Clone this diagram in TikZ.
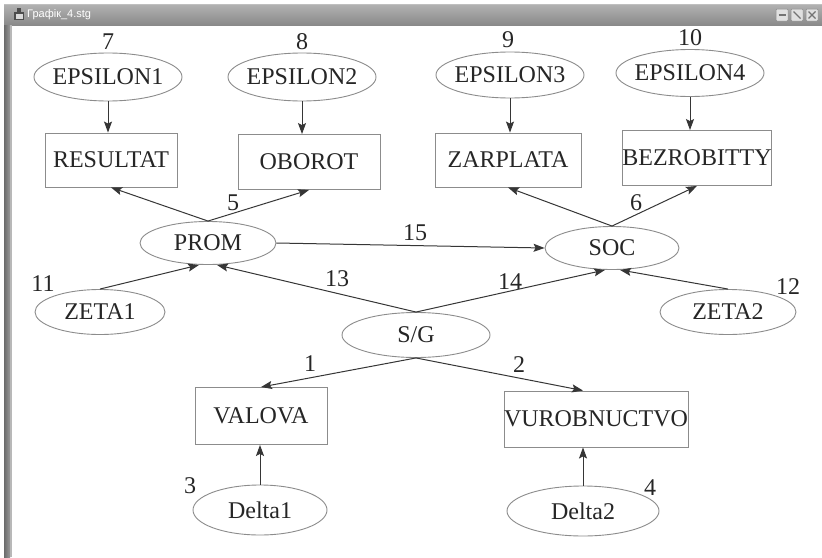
\documentclass[tikz,border=0pt]{standalone}
\usepackage{fontspec}
\setmainfont{Liberation Serif}
\newfontfamily\barfont{Liberation Sans}
\usetikzlibrary{arrows.meta,shapes.geometric}
\definecolor{edgegray}{HTML}{363636}
\definecolor{shapegray}{HTML}{8C8C8C}
\definecolor{inkgray}{HTML}{262626}
\definecolor{bartop}{HTML}{B2B2B2}
\definecolor{barbot}{HTML}{8A8A8A}
\begin{document}
\begin{tikzpicture}[x=1pt,y=-1pt,
  every node/.style={text=inkgray,font=\fontsize{24}{28}\selectfont},
  oval/.style={ellipse,draw=shapegray,line width=0.9pt,inner xsep=-3pt,inner ysep=0pt},
  box/.style={rectangle,draw=shapegray,line width=0.9pt,inner sep=0pt},
  num/.style={inner sep=0pt},
  link/.style={draw=edgegray,line width=1pt,-{Stealth[length=11pt,width=8pt,inset=2pt]}},
  winbtn/.style={fill=black!12,draw=black!45,line width=0.5pt,rounded corners=1pt}]
\useasboundingbox (0,0) rectangle (822,557);
\fill[white] (0,0) rectangle (822,557);

% window frame: title bar and left border
\shade[top color=bartop,bottom color=barbot] (4,4) rectangle (822,25);
\draw[black!25,line width=0.6pt] (4,4.5) -- (822,4.5);
\shade[left color=black!58,right color=black!40] (4,25) rectangle (10,557);
\fill[black!28] (10,25) rectangle (12,557);
% title bar icon and caption
\fill[black!70] (14,12) rectangle (24,20);
\fill[white!85!black] (15.5,13.5) rectangle (22.5,18.5);
\fill[black!70] (17,8) rectangle (21,12);
\node[font=\barfont\fontsize{11}{13}\selectfont,text=white,anchor=west,inner sep=0pt] (caption) at (27,14.5) {Графік\_4.stg};
% title bar buttons
\draw[winbtn] (776,9) rectangle (788,21);
\draw[winbtn] (791,9) rectangle (803,21);
\draw[winbtn] (806,9) rectangle (818,21);
\draw[black!55,line width=1.6pt] (778.5,15) -- (785.5,15);
\draw[black!55,line width=1.4pt] (793.5,11.5) -- (800.5,18.5);
\draw[black!55,line width=1.2pt] (808.5,11.5) -- (815.5,18.5) (808.5,18.5) -- (815.5,11.5);

% nodes
\node[oval,minimum width=140pt,minimum height=48pt] (eps1) at (108,77) {EPSILON1};
\node[oval,minimum width=144pt,minimum height=48pt] (eps2) at (302,77) {EPSILON2};
\node[oval,minimum width=144pt,minimum height=46pt] (eps3) at (510,75) {EPSILON3};
\node[oval,minimum width=145pt,minimum height=47pt] (eps4) at (690,73) {EPSILON4};

\node[box,minimum width=132pt,minimum height=54pt] (res) at (111,160) {RESULTAT};
\node[box,minimum width=142pt,minimum height=55pt] (obo) at (309,162) {OBOROT};
\node[box,minimum width=146pt,minimum height=54pt] (zar) at (508,160) {ZARPLATA};
\node[box,minimum width=144pt,minimum height=55pt] (bez) at (697,158) {BEZROBITTY};

\node[oval,minimum width=136pt,minimum height=43pt] (prom) at (208,243) {PROM};
\node[oval,minimum width=134pt,minimum height=43pt] (soc) at (612,248) {SOC};
\node[oval,minimum width=130pt,minimum height=45pt] (zeta1) at (100,312) {ZETA1};
\node[oval,minimum width=136pt,minimum height=45pt] (zeta2) at (728,312) {ZETA2};
\node[oval,minimum width=148pt,minimum height=45pt] (sg) at (416,335) {S/G};

\node[box,minimum width=132pt,minimum height=57pt] (val) at (261,416) {VALOVA};
\node[box,minimum width=183pt,minimum height=56pt] (vur) at (596,419) {VUROBNUCTVO};
\node[oval,minimum width=134pt,minimum height=50pt] (del1) at (260,510) {Delta1};
\node[oval,minimum width=152pt,minimum height=50pt] (del2) at (583,511) {Delta2};

% connector numbers
\node[num] (n7) at (108,42) {7};
\node[num] (n8) at (302,42) {8};
\node[num] (n9) at (508,40) {9};
\node[num] (n10) at (690,38) {10};
\node[num] (n5) at (233,203) {5};
\node[num] (n6) at (636,203) {6};
\node[num] (n15) at (415,233) {15};
\node[num] (n11) at (43,284) {11};
\node[num] (n13) at (337,279) {13};
\node[num] (n14) at (510,282) {14};
\node[num] (n12) at (788,287) {12};
\node[num] (n1) at (310,364) {1};
\node[num] (n2) at (519,365) {2};
\node[num] (n3) at (190,486) {3};
\node[num] (n4) at (650,488) {4};

% connectors
\draw[link] (eps1.south) -- (eps1.south |- res.north);
\draw[link] (eps2.south) -- (eps2.south |- obo.north);
\draw[link] (eps3.south) -- (eps3.south |- zar.north);
\draw[link] (eps4.south) -- (eps4.south |- bez.north);
\draw[link] (prom.north) -- (res.south);
\draw[link] (prom.north) -- (obo.south);
\draw[link] (soc.north) -- (zar.south);
\draw[link] (soc.north) -- (bez.south);
\draw[link] (prom.east) -- (soc.west);
\draw[link] (zeta1.north) -- ([xshift=-9pt]prom.south);
\draw[link] (sg.north) -- ([xshift=9pt]prom.south);
\draw[link] (sg.north) -- ([xshift=-7pt]soc.south);
\draw[link] (zeta2.north) -- ([xshift=8pt]soc.south);
\draw[link] (sg.south) -- (val.north);
\draw[link] (sg.south) -- (del2.north |- vur.north);
\draw[link] (del1.north) -- (del1.north |- val.south);
\draw[link] (del2.north) -- (del2.north |- vur.south);
\end{tikzpicture}
\end{document}
